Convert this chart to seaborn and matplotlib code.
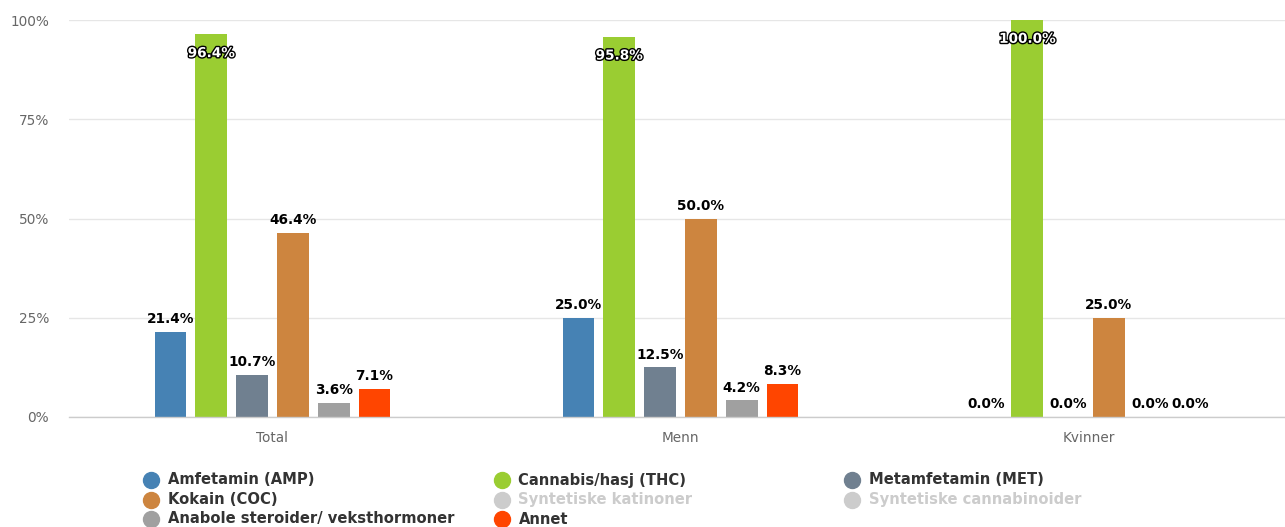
import matplotlib
matplotlib.use("Agg")
import matplotlib.pyplot as plt
import matplotlib.patheffects as pe
from matplotlib.lines import Line2D
import seaborn as sns
import pandas as pd

# ---- data ----
groups = ["Total", "Menn", "Kvinner"]
series = ["Amfetamin (AMP)", "Cannabis/hasj (THC)", "Metamfetamin (MET)",
          "Kokain (COC)", "Anabole steroider/ veksthormoner", "Annet"]
amp = [21.4, 25.0, 0.0]
thc = [96.4, 95.8, 100.0]
met = [10.7, 12.5, 0.0]
coc = [46.4, 50.0, 25.0]
anabole = [3.6, 4.2, 0.0]
annet = [7.1, 8.3, 0.0]
colors = ["#4682b4", "#9acd32", "#708090", "#cd853f", "#a0a0a0", "#ff4500"]

# legend (row-major, as in the reference; hidden series shown in grey)
legend_names = ["Amfetamin (AMP)", "Cannabis/hasj (THC)", "Metamfetamin (MET)",
                "Kokain (COC)", "Syntetiske katinoner", "Syntetiske cannabinoider",
                "Anabole steroider/ veksthormoner", "Annet"]
legend_visible = [True, True, True, True, False, False, True, True]
yticks = [0, 25, 50, 75, 100]
ytick_labels = ["0%", "25%", "50%", "75%", "100%"]

values = [amp, thc, met, coc, anabole, annet]
rows = []
for s, vals in zip(series, values):
    for g, v in zip(groups, vals):
        rows.append({"group": g, "series": s, "value": v})
df = pd.DataFrame(rows)
palette = dict(zip(series, colors))

W, H = 1285, 527
sns.set_theme(style="white")
plt.rcParams["font.family"] = ["DejaVu Sans"]
fig = plt.figure(figsize=(W / 100, H / 100), dpi=100)
left_px, right_px, top_px, bot_px = 68.5, 1285, 20, 417
ax = fig.add_axes([left_px / W, 1 - bot_px / H, (right_px - left_px) / W, (bot_px - top_px) / H])

sns.barplot(data=df, x="group", y="value", hue="series", order=groups, hue_order=series,
            palette=palette, width=0.6, gap=0.22, errorbar=None, saturation=1,
            legend=False, ax=ax, linewidth=0)

ax.set_xlim(-0.5, -0.5 + (right_px - left_px) / 408)
ax.set_ylim(0, 100)
ax.set_yticks(yticks)
ax.set_yticklabels(ytick_labels)
ax.set_xlabel("")
ax.set_ylabel("")
ax.grid(axis="y", color="#e6e6e6", linewidth=1)
ax.set_axisbelow(True)
for sp in ["top", "right", "left"]:
    ax.spines[sp].set_visible(False)
ax.spines["bottom"].set_color("#cccccc")
ax.spines["bottom"].set_linewidth(1)
ax.tick_params(axis="y", length=0, pad=14, labelsize=9.8, labelcolor="#666666")
ax.tick_params(axis="x", length=0, pad=10, labelsize=9.8, labelcolor="#666666")

for cont, vals in zip(ax.containers, values):
    for bar, v in zip(cont, vals):
        x = bar.get_x() + bar.get_width() / 2
        if v > 90:
            ax.annotate(f"{v:.1f}%", (x, v), xytext=(0, -8.5), textcoords="offset points",
                        ha="center", va="top", fontsize=9.8, fontweight="bold", color="white",
                        path_effects=[pe.withStroke(linewidth=2, foreground="black")])
        else:
            ax.annotate(f"{v:.1f}%", (x, v), xytext=(0, 4), textcoords="offset points",
                        ha="center", va="bottom", fontsize=9.8, fontweight="bold", color="black")

# legend drawn manually in three columns
leg_colors = colors[:4] + ["#cccccc", "#cccccc"] + colors[4:]
for i, (name, vis) in enumerate(zip(legend_names, legend_visible)):
    r, c = divmod(i, 3)
    y = 1 - (480 + r * 19.5) / H
    xm = (151 + c * 350.5) / W
    col = leg_colors[i] if vis else "#cccccc"
    fig.add_artist(Line2D([xm], [y], transform=fig.transFigure, marker="o", ms=11.5,
                          color=col, mec=col, ls=""))
    fig.text(xm + 17 / W, y, name, ha="left", va="center", fontsize=10.6,
             fontweight="bold", color="#333333" if vis else "#cccccc")

fig.savefig("out.png", dpi=100)
